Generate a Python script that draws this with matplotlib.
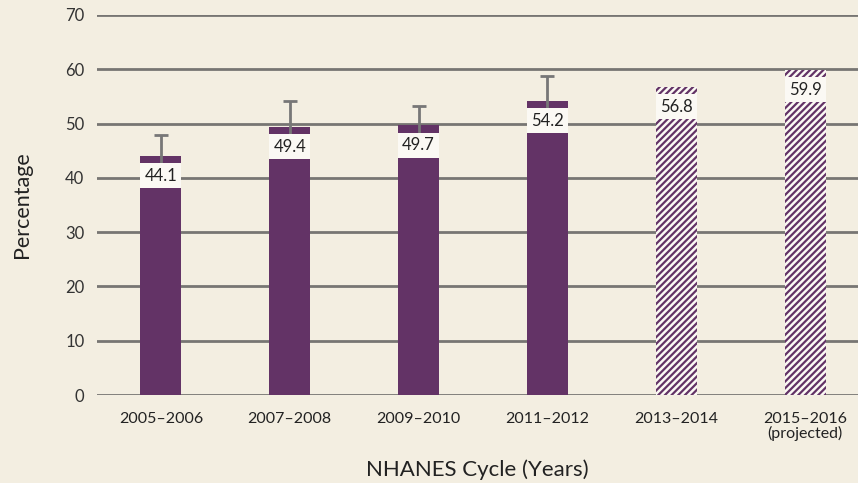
import matplotlib
matplotlib.use("Agg")
import matplotlib.pyplot as plt
from matplotlib.patches import Rectangle

plt.rcParams['font.family'] = ['Lato', 'DejaVu Sans']
plt.rcParams['hatch.linewidth'] = 1.6

# data
cycles = ["2005\u20132006", "2007\u20132008", "2009\u20132010", "2011\u20132012",
          "2013\u20132014", "2015\u20132016\n(projected)"]
values = [44.1, 49.4, 49.7, 54.2, 56.8, 59.9]
err_upper = [3.8, 4.7, 3.6, 4.5]   # only the measured cycles have error bars
projected = [False, False, False, False, True, True]

bg = "#f3eee1"
purple = "#633366"
grid_col = "#777573"
box_col = "#fbf9f4"

fig = plt.figure(figsize=(8.58, 4.83), dpi=100, facecolor=bg)
ax = fig.add_axes([0.113, 0.182, 0.887, 0.787], facecolor=bg)

x = list(range(len(cycles)))
w = 0.32

# gridlines first
for yv in range(0, 80, 10):
    ax.axhline(yv, color=grid_col, lw=2, zorder=1)

for i in x:
    if projected[i]:
        ax.bar(i, values[i], width=w, facecolor=box_col, edgecolor=purple,
               hatch="/////", linewidth=0, zorder=2)
    else:
        ax.bar(i, values[i], width=w, color=purple, zorder=2)
        ax.errorbar(i, values[i], yerr=err_upper[i], color="#777777",
                    elinewidth=2, capsize=5, capthick=2, zorder=3)
    # label box just under the bar top
    ax.add_patch(Rectangle((i - w / 2, values[i] - 6.0), w, 4.6,
                           facecolor=box_col, edgecolor="none", zorder=4))
    ax.text(i, values[i] - 3.7, f"{values[i]:.1f}", ha="center", va="center",
            fontsize=12, color="#222222", zorder=5)

ax.set_xlim(-0.496, 5.41)
ax.set_ylim(0, 70)
ax.set_yticks(range(0, 80, 10))
ax.set_xticks(x)
ax.set_xticklabels(cycles, fontsize=11.5, linespacing=1.05)
ax.tick_params(axis="y", length=0, labelsize=12, pad=9, colors="#333333")
ax.tick_params(axis="x", length=0, pad=12, colors="#222222")
for s in ax.spines.values():
    s.set_visible(False)

ax.set_ylabel("Percentage", fontsize=15.5, labelpad=24, color="#222222")
ax.set_xlabel("NHANES Cycle (Years)", fontsize=16, labelpad=13, color="#222222")

fig.savefig("out.png", dpi=100, facecolor=bg)
